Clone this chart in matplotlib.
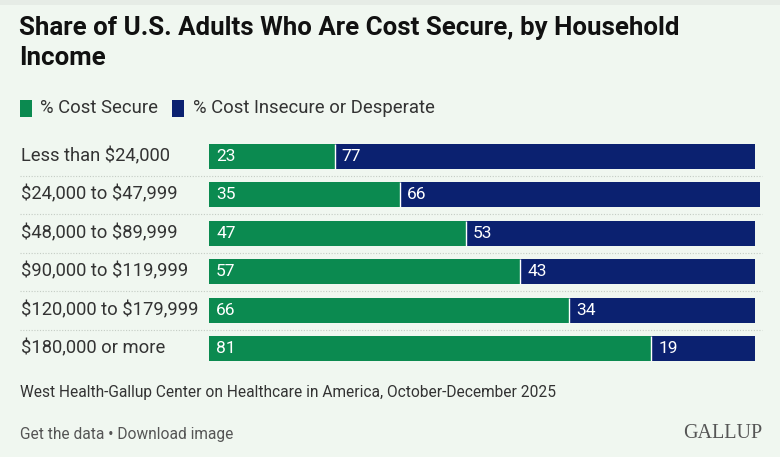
import matplotlib
matplotlib.use("Agg")
import matplotlib.pyplot as plt
import matplotlib.transforms as mtransforms
from matplotlib.patches import Rectangle
from matplotlib.lines import Line2D

plt.rcParams["text.parse_math"] = False

# Data
categories = ["Less than $24,000", "$24,000 to $47,999", "$48,000 to $89,999",
              "$90,000 to $119,999", "$120,000 to $179,999", "$180,000 or more"]
secure = [23, 35, 47, 57, 66, 81]
insecure = [77, 66, 53, 43, 34, 19]

green = "#0b8a50"
navy = "#0b2170"
bg = "#f0f7f0"
font = ["Roboto", "DejaVu Sans"]

W, H = 780, 457
fig = plt.figure(figsize=(W / 100, H / 100), dpi=100, facecolor=bg)

def fx(px):
    return px / W

def fy(py):
    return 1 - py / H

# thin top band
fig.add_artist(Rectangle((0, fy(5)), 1, 5 / H, transform=fig.transFigure,
                         facecolor="#e6ece6", edgecolor="none"))

# title
fig.text(fx(19), fy(28), "Share of U.S. Adults Who Are Cost Secure, by Household",
         fontsize=18.6, fontweight="bold", family=font, color="#111111", va="center")
fig.text(fx(19), fy(58), "Income",
         fontsize=18.6, fontweight="bold", family=font, color="#111111", va="center")

# legend
fig.add_artist(Rectangle((fx(20), fy(117)), 12 / W, 17 / H, transform=fig.transFigure,
                         facecolor=green, edgecolor="none"))
fig.text(fx(40), fy(108), "% Cost Secure", fontsize=13.3, family=font,
         color="#333333", va="center")
fig.add_artist(Rectangle((fx(172), fy(117)), 12 / W, 17 / H, transform=fig.transFigure,
                         facecolor=navy, edgecolor="none"))
fig.text(fx(193), fy(108), "% Cost Insecure or Desperate", fontsize=13.3, family=font,
         color="#333333", va="center")

# bars
ax = fig.add_axes([fx(209), fy(368), 546 / W, 231 / H])
ax.set_facecolor("none")
ypos = list(range(len(categories)))
ax.barh(ypos, secure, height=0.65, color=green, clip_on=False)
ax.barh(ypos, insecure, left=secure, height=0.65, color=navy, clip_on=False)
ax.vlines(secure, [y - 0.325 for y in ypos], [y + 0.325 for y in ypos],
          color="white", linewidth=1.0, clip_on=False)
ax.set_xlim(0, 100)
ax.set_ylim(len(categories) - 0.5, -0.5)
ax.axis("off")

for y, s, i in zip(ypos, secure, insecure):
    ax.text(1.3, y, str(s), color="white", fontsize=12.5, family=font, va="center")
    ax.text(s + 1.3, y, str(i), color="white", fontsize=12.5, family=font, va="center")

# category labels and dotted separators
blend = mtransforms.blended_transform_factory(fig.transFigure, ax.transData)
for y, c in zip(ypos, categories):
    ax.text(fx(21), y, c, transform=blend, fontsize=13.2, family=font,
            color="#333333", va="center")
for y in ypos[:-1]:
    fig.add_artist(Line2D([fx(20), fx(762)], [y + 0.5, y + 0.5], transform=blend,
                          color="#c4ccc4", linewidth=0.8, linestyle=(0, (1, 1.5))))

# footer
fig.text(fx(20), fy(393), "West Health-Gallup Center on Healthcare in America, October-December 2025",
         fontsize=11.2, family=font, color="#333333", va="center")
fig.text(fx(20), fy(435), "Get the data \u2022 Download image",
         fontsize=11.2, family=font, color="#555555", va="center")
fig.text(fx(762), fy(434), "GALLUP", fontsize=14.5, family="Liberation Serif",
         color="#555555", va="center", ha="right")

fig.savefig("out.png", dpi=100, facecolor=bg)
